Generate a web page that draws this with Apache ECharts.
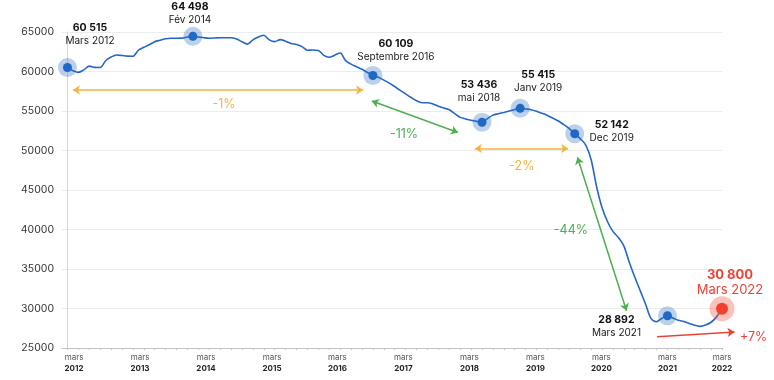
<!DOCTYPE html>
<html><head><meta charset="utf-8">
<script src="https://cdn.jsdelivr.net/npm/echarts@6/dist/echarts.min.js"></script>
<style>html,body{margin:0;padding:0;background:#fff}#c{width:774px;height:380px}</style>
</head><body><div id="c"></div>
<script>
// ---- DATA ----
// monthly values, index 0 = Mars 2012 ... index 120 = Mars 2022
const values = [
 60500, 60110, 59890, 60210, 60680, 60520, 60510, 61360, 61830, 62090,
 62020, 61940, 61930, 62690, 63060, 63390, 63780, 63960, 64140, 64200,
 64200, 64220, 64360, 64450, 64360, 64270, 64210, 64250, 64280, 64280,
 64280, 64120, 63760, 63470, 64010, 64380, 64590, 64010, 63780, 64040,
 63830, 63540, 63420, 63150, 62690, 62720, 62670, 62040, 61810, 62070,
 62340, 61370, 60940, 60600, 60280, 59880, 59500, 59260, 58910, 58530,
 58080, 57620, 57160, 56710, 56290, 56050, 56050, 55890, 55610, 55370,
 55150, 54670, 54190, 54000, 53830, 53690, 53570, 54040, 54480, 54650,
 54820, 55000, 55180, 55340, 55260, 55160, 54970, 54710, 54430, 54080,
 53740, 53270, 52780, 52120, 51500, 50720, 48870, 45440, 42780, 41010,
 39760, 38990, 37930, 35860, 33980, 32260, 30530, 28720, 28330, 28770,
 29080, 28800, 28500, 28360, 28110, 27870, 27740, 27910, 28260, 28940,
 29970
];
const tickPos = [1.2, 13.3, 25.4, 37.5, 49.5, 61.6, 73.7, 85.8, 97.9, 110, 120];
const tickMonth = 'mars';
const tickYears = ['2012','2013','2014','2015','2016','2017','2018','2019','2020','2021','2022'];
const yMin = 25000, yMax = 65000, yStep = 5000;

const hlIdx = [0, 23, 56, 76, 83, 93, 110, 120];
const hlValue = ['60 515','64 498','60 109','53 436','55 415','52 142','28 892','30 800'];
const hlDate = ['Mars 2012','Fév 2014','Septembre 2016','mai 2018','Janv 2019','Dec 2019','Mars 2021','Mars 2022'];

const changeText = ['-1%','-11%','-2%','-44%','+7%'];
const changeFrom = [[1.0,57660],[55.8,56270],[74.7,50250],[93.5,49140],[108.1,26430]];
const changeTo   = [[54.2,57660],[71.6,52280],[91.8,50250],[102.5,29720],[122.3,27030]];
const changeLabelAt = [[28.7,55900],[61.7,52100],[83.3,47950],[92.3,39900],[125.8,26300]];

// ---- STYLE ----
const FONT = 'Inter, "Open Sans", sans-serif';
const ORANGE = '#f4b53f', GREEN = '#4caf50', RED = '#ea4335', BLUE = '#2468c4';
const changeColor = [ORANGE, GREEN, ORANGE, GREEN, RED];
const changeStartSym = ['arrow','arrow','arrow','arrow','none'];
const labelOffsets = [[22.5,-20],[-3,-10],[23,-12],[-3,-17.5],[18,-13.5],[37,11],[-51,24],[8,-11.5]];
const X_MIN = -1, X_MAX = 120;
const G0 = {left:62, right:52, top:32, bottom:32};
const W = 774;
const X_MAX2 = X_MIN + (X_MAX - X_MIN) * (W - G0.left) / (W - G0.left - G0.right);

const minorTicks = [];
for (let t = 0; t <= 120; t += 2) minorTicks.push(t);

const isLast = j => j === hlIdx.length - 1;

const option = {
  animation: false,
  textStyle: {fontFamily: FONT},
  grid: [
    {left:G0.left, right:G0.right, top:G0.top, bottom:G0.bottom},
    {left:G0.left, right:0, top:G0.top, bottom:G0.bottom}
  ],
  xAxis: [
    {type:'value', gridIndex:0, min:X_MIN, max:X_MAX,
     axisLine:{show:true, lineStyle:{color:'#c4c4c4', width:1}},
     axisTick:{show:true, customValues:minorTicks, length:2, lineStyle:{color:'#c4c4c4'}},
     splitLine:{show:false},
     axisLabel:{customValues:tickPos, margin:5, fontFamily:FONT,
       formatter:(v) => {
         let k = tickPos.indexOf(v);
         if (k < 0) { let best=0; tickPos.forEach((p,i)=>{ if (Math.abs(p-v) < Math.abs(tickPos[best]-v)) best=i; }); k=best; }
         return '{m|' + tickMonth + '}\n{y|' + tickYears[k] + '}';
       },
       rich:{
         m:{fontSize:8, color:'#555', lineHeight:10, fontFamily:FONT},
         y:{fontSize:8, fontWeight:'bold', color:'#222', lineHeight:11, fontFamily:FONT}
       }}
    },
    {type:'value', gridIndex:1, min:X_MIN, max:X_MAX2, show:false}
  ],
  yAxis: [
    {type:'value', gridIndex:0, min:yMin, max:yMax, interval:yStep,
     axisLine:{show:true, lineStyle:{color:'#d6d6d6'}},
     axisTick:{show:false},
     axisLabel:{color:'#333', fontSize:10.5, margin:8, fontFamily:FONT, formatter:v => String(v)},
     splitLine:{lineStyle:{color:'#ececec'}}},
    {type:'value', gridIndex:1, min:yMin, max:yMax, show:false}
  ],
  series: [
    {type:'line', xAxisIndex:0, yAxisIndex:0, z:2,
     data: values.map((v,i)=>[i,v]),
     smooth:0.3, showSymbol:false, symbol:'none',
     lineStyle:{color:BLUE, width:1.6}},
    {type:'scatter', xAxisIndex:0, yAxisIndex:0, z:3, silent:true,
     data: hlIdx.map((k,j)=>({value:[k, values[k]],
        symbolSize: isLast(j) ? 25 : 19,
        itemStyle:{opacity:1, color: isLast(j) ? 'rgba(240,80,60,0.35)' : 'rgba(42,108,196,0.32)'}}))},
    {type:'scatter', xAxisIndex:0, yAxisIndex:0, z:4, silent:true,
     data: hlIdx.map((k,j)=>({value:[k, values[k]],
        symbolSize: isLast(j) ? 12 : 9,
        itemStyle:{opacity:1, color: isLast(j) ? '#f0412f' : '#1f68c6'}}))},
    {type:'scatter', xAxisIndex:0, yAxisIndex:0, z:5, silent:true, symbolSize:0,
     itemStyle:{opacity:1},
     data: hlIdx.map((k,j)=>({value:[k, values[k]],
        label:{show:true, position:'top', distance:0, offset:labelOffsets[j], align:'center',
          formatter: isLast(j) ? '{rv|' + hlValue[j] + '}\n{rd|' + hlDate[j] + '}'
                              : '{v|' + hlValue[j] + '}\n{d|' + hlDate[j] + '}',
          rich:{
            v:{fontSize:10.5, fontWeight:'bold', color:'#111', lineHeight:13, fontFamily:FONT, align:'center'},
            d:{fontSize:10, color:'#1a1a1a', lineHeight:13, fontFamily:FONT, align:'center'},
            rv:{fontSize:13, fontWeight:'bold', color:RED, lineHeight:15, fontFamily:FONT, align:'center'},
            rd:{fontSize:13, color:RED, lineHeight:15, fontFamily:FONT, align:'center'}
          }}}))},
    {type:'scatter', xAxisIndex:1, yAxisIndex:1, z:6, silent:true, symbolSize:0,
     itemStyle:{opacity:1},
     data: changeLabelAt.map((p,j)=>({value:p,
        label:{show:true, position:'inside', formatter:changeText[j],
               color:changeColor[j], fontSize:12.5, fontFamily:FONT}})),
     markLine:{silent:true, animation:false, symbolSize:7, precision:4,
       label:{show:false},
       data: changeFrom.map((f,j)=>[
         {coord:f, symbol:changeStartSym[j], lineStyle:{color:changeColor[j], width:1.5, type:'solid', opacity:1}},
         {coord:changeTo[j], symbol:'arrow'}
       ])}}
  ]
};
echarts.init(document.getElementById('c'), null, {renderer:'canvas'}).setOption(option);
</script></body></html>
